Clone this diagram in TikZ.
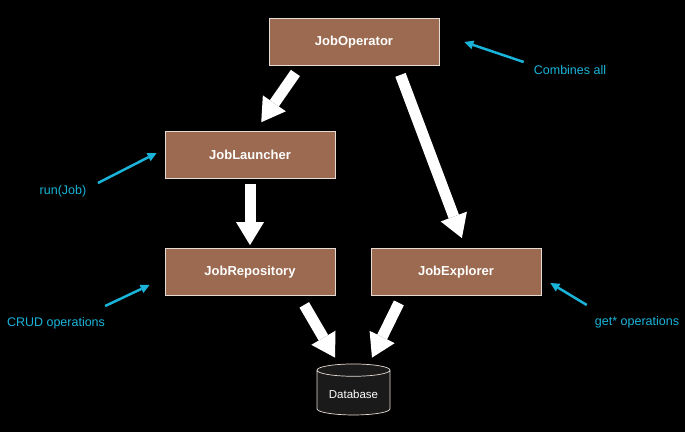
\documentclass[tikz,border=0pt]{standalone}
\usepackage{fontspec}
\setmainfont{Liberation Sans}
\usetikzlibrary{calc, positioning, arrows.meta, shapes.geometric}
\definecolor{boxbrown}{HTML}{9C6A50}
\definecolor{noteblue}{HTML}{1AB4DA}
\definecolor{boxedge}{HTML}{E6DCD6}
\definecolor{dbfill}{HTML}{1A1A1A}
\tikzset{
	job/.style={rectangle, fill=boxbrown, draw=boxedge, line width=0.8pt, minimum width=170pt, minimum height=47pt, text=white, font=\fontsize{13}{15}\selectfont\bfseries},
	flow/.style={white, line width=11pt, -{Triangle[width=28pt,length=23pt,line width=0pt]}},
	note/.style={noteblue, line width=2.5pt, -{Triangle[width=9pt,length=9pt,line width=0pt]}},
	notetext/.style={text=noteblue, font=\fontsize{12.5}{14}\selectfont, inner sep=0pt},
	store/.style={cylinder, shape border rotate=90, aspect=0.22, fill=dbfill, draw=boxedge, line width=0.7pt, minimum width=73pt, minimum height=51pt, text=white, font=\fontsize{11.5}{13}\selectfont}
}

\begin{document}
\begin{tikzpicture}[x=1pt,y=-1pt]
	\fill[black] (0,0) rectangle (685,432);
	\node[job] (op) at (354,42) {JobOperator};
	\node[job] (la) at (250,155) {JobLauncher};
	\node[job] (re) at (250,272) {JobRepository};
	\node[job] (ex) at (456,272) {JobExplorer};
	\node[store] (db) at (353.5,394) {Database};
	\node[notetext] (cm) at (570,70) {Combines all};
	\node[notetext] (rj) at (63,191) {run(Job)};
	\node[notetext] (cr) at (56,323) {CRUD operations};
	\node[notetext] (gt) at (637,322) {get* operations};
	\draw[flow, shorten <=8.6pt, shorten >=10.8pt] (op.204) -- (la.78);
	\draw[flow, shorten <=9.6pt, shorten >=10.7pt] (op.331) -- (ex.68);
	\draw[flow, shorten <=5pt, shorten >=3pt] (la.south) -- (re.north);
	\draw[flow, shorten <=10.4pt] (re.334) -- ($(db.north)+(-18.5,-6)$);
	\draw[flow, shorten <=7.8pt] (ex.204) -- ($(db.north)+(18.5,-6)$);
	\draw[note] ($(cm.west)+(-10,-8)$) -- ($(op.east)+(25,0)$);
	\draw[note] ($(rj.east)+(11.5,-8)$) -- ($(la.west)+(-8,-2)$);
	\draw[note] ($(cr.east)+(0,-17)$) -- ($(re.west)+(-15,13)$);
	\draw[note] ($(gt.west)+(-8,-17)$) -- ($(ex.east)+(9,11)$);
\end{tikzpicture}
\end{document}
